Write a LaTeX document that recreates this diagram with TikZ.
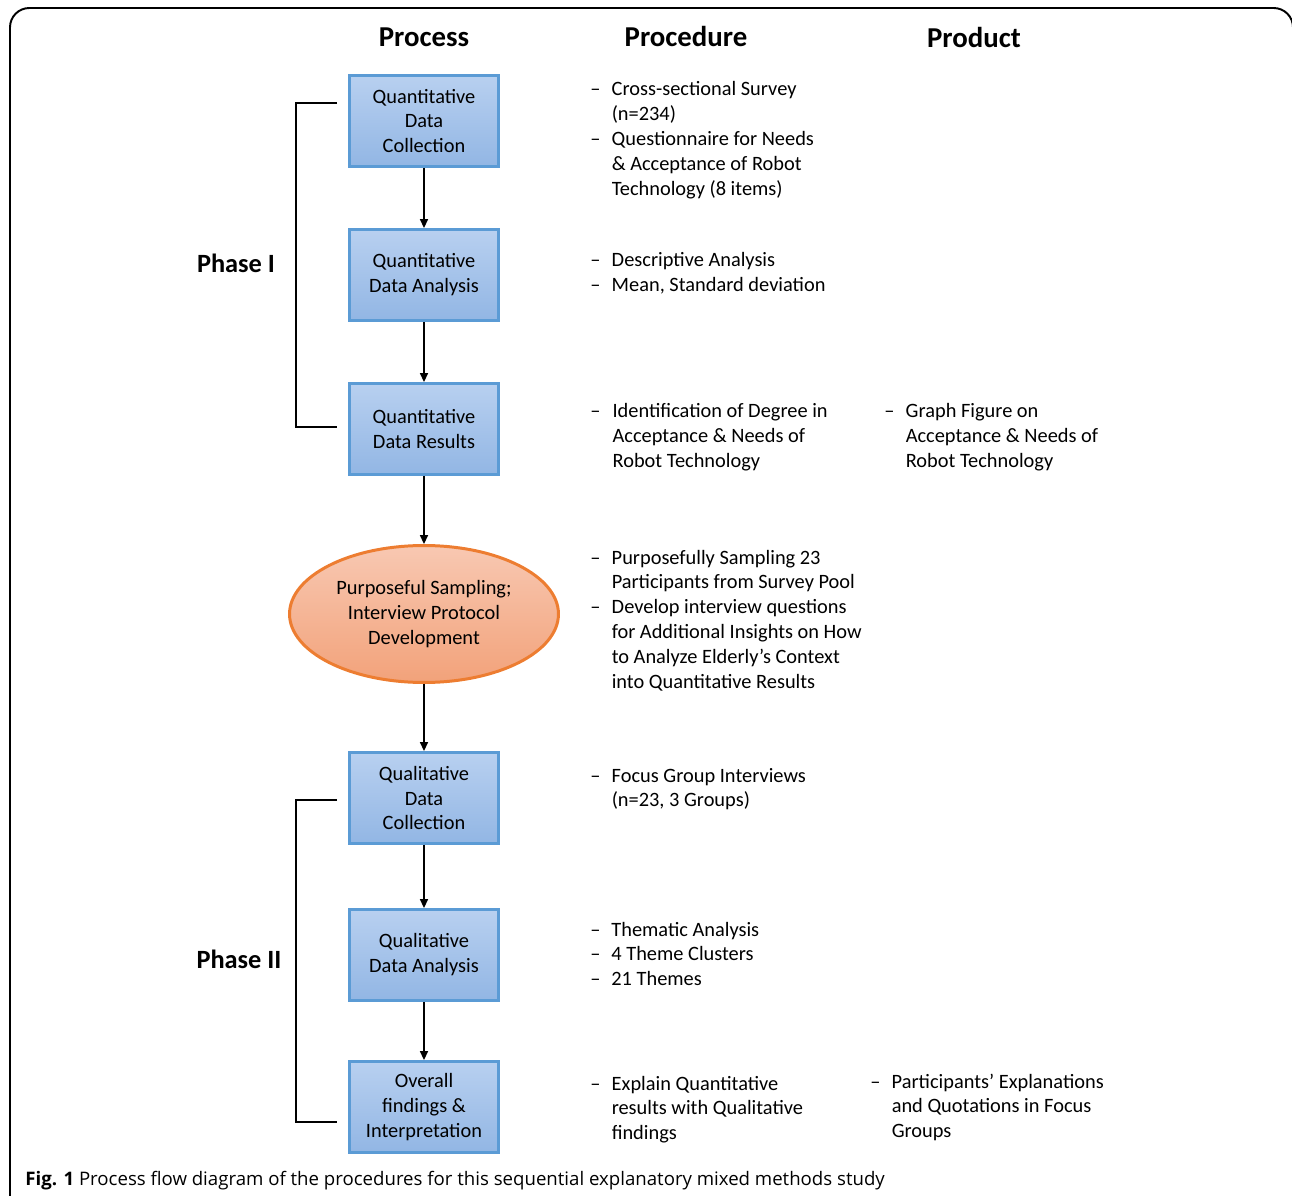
\documentclass[tikz,border=0pt]{standalone}
\usepackage{fontspec}
\setmainfont{Carlito}
\newfontfamily\capfont{Open Sans}
\usetikzlibrary{
  arrows.meta,
  positioning,
  shapes.geometric
}
\definecolor{boxtop}{RGB}{184,208,240}
\definecolor{boxbot}{RGB}{146,182,228}
\definecolor{boxline}{RGB}{91,155,213}
\definecolor{elltop}{RGB}{248,200,178}
\definecolor{ellbot}{RGB}{242,162,122}
\definecolor{ellline}{RGB}{237,125,49}
\newcommand{\boxfont}{\fontsize{11.6}{14.2}\selectfont}
\tikzset{
  stepbox/.style={rectangle, draw=boxline, line width=1.7pt,
    top color=boxtop, bottom color=boxbot,
    minimum width=3cm, minimum height=1.82cm, inner sep=2pt,
    align=center, font=\boxfont},
  sampling/.style={ellipse, draw=ellline, line width=1.7pt,
    top color=elltop, bottom color=ellbot,
    minimum width=5.38cm, minimum height=2.74cm, inner sep=0pt,
    align=center, font=\boxfont},
  flow/.style={-{Triangle[length=5pt,width=4.5pt]}, line width=0.85pt},
  bracket/.style={line width=1.2pt},
  header/.style={font=\fontsize{16.4}{20}\selectfont\bfseries},
  phase/.style={font=\fontsize{15}{18}\selectfont\bfseries},
  note/.style={anchor=base west, inner sep=0pt, font=\boxfont}
}

\begin{document}
\begin{tikzpicture}[x=0.02cm, y=-0.02cm]
\useasboundingbox (0,0) rectangle (1292,1196);

% frame
\draw[line width=1.1pt, rounded corners=11pt]
  (10,1230) -- (10,8) -- (1293,8) -- (1293,1230);

% headers
\node[header] (hproc) at (424,37) {Process};
\node[header] (hprocd) at (686,36) {Procedure};
\node[header] (hprod) at (974,38) {Product};

% process steps
\node[stepbox]  (qdc)  at (424,121)  {Quantitative\\Data\\Collection};
\node[stepbox]  (qda)  at (424,275)  {Quantitative\\Data Analysis};
\node[stepbox]  (qdr)  at (424,429)  {Quantitative\\Data Results};
\node[sampling] (samp) at (424,614)  {Purposeful Sampling;\\Interview Protocol\\Development};
\node[stepbox]  (qlc)  at (424,798)  {Qualitative\\Data\\Collection};
\node[stepbox]  (qla)  at (424,955)  {Qualitative\\Data Analysis};
\node[stepbox]  (ovr)  at (424,1107) {Overall\\findings \&\\Interpretation};

% arrows
\draw[flow] (qdc) -- (qda);
\draw[flow] (qda) -- (qdr);
\draw[flow] (qdr) -- (samp);
\draw[flow] (samp) -- (qlc);
\draw[flow] (qlc) -- (qla);
\draw[flow] (qla) -- (ovr);

% phases
\coordinate (p1t) at (337,103);
\coordinate (p1b) at (337,427);
\coordinate (p2t) at (337,800);
\coordinate (p2b) at (337,1122);
\draw[bracket] (p1t) -- ++(-41,0) |- (p1b);
\draw[bracket] (p2t) -- ++(-41,0) |- (p2b);
\node[phase] (ph1) at (236,263) {Phase I};
\node[phase] (ph2) at (239,959) {Phase II};

% procedures
\node[note] (pr1) at (590,96) {\begin{tabular}[t]{@{}l@{\hspace{6.4pt}}l@{}}
  –&Cross-sectional Survey\\ &(n=234)\\
  –&Questionnaire for Needs\\ &\& Acceptance of Robot\\ &Technology (8 items)
  \end{tabular}};
\node[note] (pr2) at (590,267) {\begin{tabular}[t]{@{}l@{\hspace{6.4pt}}l@{}}
  –&Descriptive Analysis\\ –&Mean, Standard deviation
  \end{tabular}};
\node[note] (pr3) at (590,418) {\begin{tabular}[t]{@{}l@{\hspace{6.9pt}}l@{}}
  –&Identification of Degree in\\ &Acceptance \& Needs of\\ &Robot Technology
  \end{tabular}};
\node[note] (pr4) at (590,564) {\begin{tabular}[t]{@{}l@{\hspace{6.4pt}}l@{}}
  –&Purposefully Sampling 23\\ &Participants from Survey Pool\\
  –&Develop interview questions\\ &for Additional Insights on How\\
   &to Analyze Elderly’s Context\\ &into Quantitative Results
  \end{tabular}};
\node[note] (pr5) at (590,782) {\begin{tabular}[t]{@{}l@{\hspace{6.4pt}}l@{}}
  –&Focus Group Interviews\\ &(n=23, 3 Groups)
  \end{tabular}};
\node[note] (pr6) at (590,936) {\begin{tabular}[t]{@{}l@{\hspace{6.2pt}}l@{}}
  –&Thematic Analysis\\ –&4 Theme Clusters\\ –&21 Themes
  \end{tabular}};
\node[note] (pr7) at (590,1090) {\begin{tabular}[t]{@{}l@{\hspace{6.4pt}}l@{}}
  –&Explain Quantitative\\ &results with Qualitative\\ &findings
  \end{tabular}};

% products
\node[note] (pd3) at (884,418) {\begin{tabular}[t]{@{}l@{\hspace{6.4pt}}l@{}}
  –&Graph Figure on\\ &Acceptance \& Needs of\\ &Robot Technology
  \end{tabular}};
\node[note] (pd7) at (870,1088) {\begin{tabular}[t]{@{}l@{\hspace{6.4pt}}l@{}}
  –&Participants’ Explanations\\ &and Quotations in Focus\\ &Groups
  \end{tabular}};

% caption
\node[anchor=base west, inner sep=0pt] (cap) at (25,1185)
  {\capfont\fontsize{10.6}{12}\selectfont\textbf{Fig. 1} Process flow diagram of the procedures for this sequential explanatory mixed methods study};

\end{tikzpicture}
\end{document}
